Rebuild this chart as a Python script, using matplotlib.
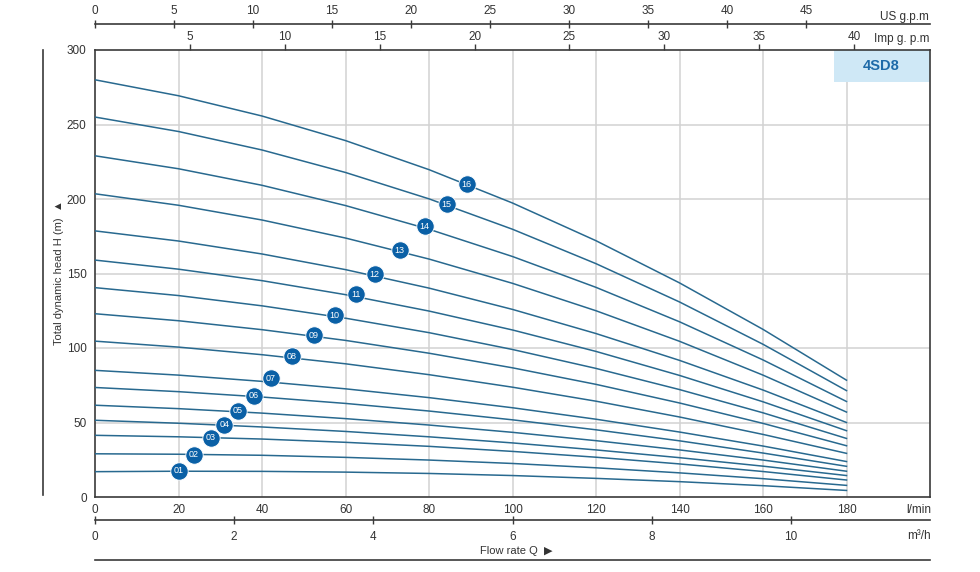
import matplotlib
matplotlib.use("Agg")
import matplotlib.pyplot as plt
from matplotlib.lines import Line2D
from matplotlib.patches import Rectangle

plt.rcParams["font.family"] = ["Liberation Sans", "DejaVu Sans"]

# flow points (l/min) where the curves were read
flow_lpm = [0, 20, 40, 60, 80, 100, 120, 140, 160, 180]

# total dynamic head (m) for each model curve
head_01 = [17.0, 17.3, 17.2, 16.7, 15.8, 14.4, 12.5, 10.3, 7.6, 4.4]
head_02 = [29.0, 28.7, 28.0, 26.6, 24.8, 22.5, 19.6, 16.2, 12.3, 7.8]
head_03 = [41.4, 40.4, 38.9, 36.7, 34.0, 30.6, 26.7, 22.2, 17.1, 11.4]
head_04 = [51.5, 49.5, 47.0, 44.0, 40.4, 36.3, 31.6, 26.4, 20.7, 14.4]
head_05 = [61.6, 59.3, 56.3, 52.6, 48.3, 43.4, 37.8, 31.6, 24.8, 17.3]
head_06 = [73.5, 70.7, 67.1, 62.8, 57.7, 51.8, 45.1, 37.7, 29.5, 20.6]
head_07 = [85.0, 81.8, 77.6, 72.6, 66.7, 59.9, 52.2, 43.6, 34.2, 23.8]
head_08 = [104.6, 100.6, 95.5, 89.4, 82.1, 73.7, 64.3, 53.7, 42.0, 29.3]
head_09 = [123.0, 118.3, 112.3, 105.1, 96.5, 86.7, 75.6, 63.1, 49.4, 34.4]
head_10 = [140.5, 135.2, 128.3, 120.0, 110.3, 99.0, 86.3, 72.1, 56.5, 39.3]
head_11 = [159.0, 152.9, 145.2, 135.8, 124.8, 112.1, 97.7, 81.6, 63.9, 44.5]
head_12 = [178.6, 171.8, 163.1, 152.6, 140.2, 125.9, 109.7, 91.7, 71.8, 50.0]
head_13 = [203.5, 195.8, 185.9, 173.8, 159.7, 143.4, 125.0, 104.5, 81.8, 57.0]
head_14 = [229.0, 220.3, 209.2, 195.6, 179.7, 161.4, 140.7, 117.6, 92.0, 64.1]
head_15 = [255.0, 245.3, 232.9, 217.8, 200.1, 179.7, 156.6, 130.9, 102.5, 71.4]
head_16 = [280.0, 269.3, 255.7, 239.2, 219.7, 197.3, 172.0, 143.7, 112.5, 78.4]

curve_heads = [head_01, head_02, head_03, head_04, head_05, head_06, head_07, head_08,
               head_09, head_10, head_11, head_12, head_13, head_14, head_15, head_16]
curve_labels = ["01", "02", "03", "04", "05", "06", "07", "08",
                "09", "10", "11", "12", "13", "14", "15", "16"]

# numbered badges on the curves
marker_flow = [20.0, 23.7, 27.8, 31.0, 34.2, 38.0, 42.1, 47.2,
               52.4, 57.4, 62.4, 67.0, 73.0, 79.0, 84.2, 89.0]
marker_head = [17.7, 28.4, 39.9, 48.6, 58.0, 68.0, 79.6, 94.4,
               108.5, 122.0, 136.0, 149.5, 165.7, 181.8, 196.6, 210.0]

lpm_ticks = [0, 20, 40, 60, 80, 100, 120, 140, 160, 180]
head_ticks = [0, 50, 100, 150, 200, 250, 300]
us_gpm_ticks = [0, 5, 10, 15, 20, 25, 30, 35, 40, 45]
imp_gpm_ticks = [5, 10, 15, 20, 25, 30, 35, 40]
m3h_ticks = [0, 2, 4, 6, 8, 10]

US_GAL = 3.785411784
IMP_GAL = 4.54609

LINE = "#28698f"
BADGE = "#0a60a6"
AXC = "#3a3a3a"
TXT = "#333333"
GRID = "#d2d2d2"

W, H = 980, 572
fig = plt.figure(figsize=(W / 100, H / 100), dpi=100)
x0, x1, y0, y1 = 95, 930, 497, 50
ax = fig.add_axes([x0 / W, 1 - y0 / H, (x1 - x0) / W, (y0 - y1) / H])
ax.set_xlim(0, 200)
ax.set_ylim(0, 300)

for v in lpm_ticks[1:]:
    ax.axvline(v, color=GRID, lw=1.1, zorder=1)
for v in head_ticks[1:-1]:
    ax.axhline(v, color=GRID, lw=1.1, zorder=1)

for heads in curve_heads:
    ax.plot(flow_lpm, heads, color=LINE, lw=1.1, zorder=3)

ax.plot(marker_flow, marker_head, "o", ms=12.5, color=BADGE,
        markeredgecolor="white", markeredgewidth=0.6, zorder=4)
for q, h, lab in zip(marker_flow, marker_head, curve_labels):
    ax.text(q, h, lab, color="white", fontsize=6.5, ha="center", va="center", zorder=5)

# model tag
ax.add_patch(Rectangle((176.9, 278.4), 23.1, 21.6, facecolor="#cfe8f6",
                       edgecolor="none", zorder=2))
ax.text(188.4, 289.5, "4SD8", color="#1d6aa8", fontsize=10.5, fontweight="bold",
        ha="center", va="center", zorder=3)

for s in ax.spines.values():
    s.set_color(AXC)
    s.set_linewidth(1.2)
ax.set_xticks(lpm_ticks)
ax.set_yticks(head_ticks)
ax.tick_params(axis="x", length=0, pad=5, labelsize=8.5, labelcolor=TXT)
ax.tick_params(axis="y", length=0, pad=6, labelsize=8.5, labelcolor=TXT)

# extra flow scales
imp = ax.secondary_xaxis(1.0, functions=(lambda q: q / IMP_GAL, lambda g: g * IMP_GAL))
imp.set_xticks(imp_gpm_ticks)
imp.tick_params(direction="out", length=4, width=1, color=AXC, pad=1,
                labelsize=8.5, labelcolor=TXT)
imp.spines["top"].set_visible(False)

us_pos = (y0 - 24) / (y0 - y1)
us = ax.secondary_xaxis(us_pos, functions=(lambda q: q / US_GAL, lambda g: g * US_GAL))
us.set_xticks(us_gpm_ticks)
us.tick_params(direction="inout", length=6, width=1, color=AXC, pad=2,
               labelsize=8.5, labelcolor=TXT)
us.spines["top"].set_color(AXC)
us.spines["top"].set_linewidth(1.2)

m3_pos = (y0 - 520) / (y0 - y1)
m3 = ax.secondary_xaxis(m3_pos, functions=(lambda q: q * 0.06, lambda m: m / 0.06))
m3.set_xticks(m3h_ticks)
m3.tick_params(direction="inout", length=6, width=1, color=AXC, pad=5,
               labelsize=8.5, labelcolor=TXT)
m3.spines["bottom"].set_color(AXC)
m3.spines["bottom"].set_linewidth(1.2)

# unit labels
fig.text(929 / W, 1 - 17 / H, "US g.p.m", ha="right", va="center", fontsize=8.5, color=TXT)
fig.text(929 / W, 1 - 39 / H, "Imp g. p.m", ha="right", va="center", fontsize=8.5, color=TXT)
fig.text(931 / W, 1 - 510 / H, "l/min", ha="right", va="center", fontsize=8.5, color=TXT)
fig.text(931 / W, 1 - 536 / H, "m³/h", ha="right", va="center", fontsize=8.5, color=TXT)
fig.text(516 / W, 1 - 551 / H, "Flow rate Q  \u25B6", ha="center", va="center",
         fontsize=8, color=TXT)
fig.text(59 / W, 1 - 273 / H, "Total dynamic head H (m)  \u25B2", rotation=90,
         ha="center", va="center", fontsize=8, color=TXT)

# frame lines outside the plot
fig.add_artist(Line2D([43 / W, 43 / W], [1 - 50 / H, 1 - 495 / H], color=AXC, lw=1.2))
fig.add_artist(Line2D([x0 / W, x1 / W], [1 - 560 / H, 1 - 560 / H], color=AXC, lw=1.2))

fig.savefig("out.png", dpi=100)
